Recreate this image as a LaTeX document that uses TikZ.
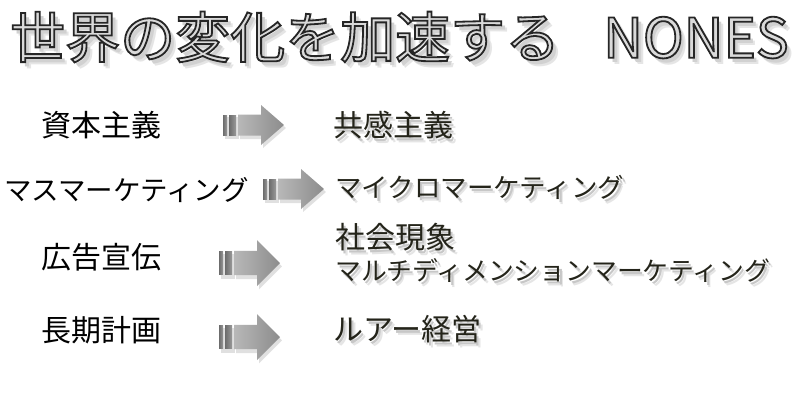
\documentclass[tikz,border=0pt]{standalone}
\usepackage{fontspec}
\setmainfont{Noto Sans CJK JP}
\definecolor{wordart}{HTML}{24241A}
\definecolor{silver}{HTML}{DADADA}
\definecolor{barL}{HTML}{6C6C6C}
\definecolor{barR}{HTML}{9A9A9A}
\definecolor{bodyL}{HTML}{B8B8B8}
\definecolor{bodyR}{HTML}{8C8C8C}
\newcommand\fsz[1]{\fontsize{#1}{#1}\selectfont}
\newcommand\outlined[1]{\special{pdf:literal direct 2 Tr 1.8 w 0.15 G}#1\special{pdf:literal direct 0 Tr 0 G}}
\newcommand\dropcopy[4]{\makebox[0pt][l]{\hspace{#1}\raisebox{#2}[0pt][0pt]{\color{#3}#4}}}
\newcommand\shadowed[1]{\dropcopy{4pt}{-5pt}{black!10}{#1}\dropcopy{2.5pt}{-3pt}{black!22}{#1}#1}
\newcommand\titletext{世界の変化を加速する\hspace{43pt}NONES}
\begin{document}
\begin{tikzpicture}[x=1pt,y=-1pt,
  txt/.style={inner sep=0pt,anchor=west},
  lefttxt/.style={txt,text=black},
  righttxt/.style={txt,text=wordart},
  nonesarrow/.pic={
    \fill[black,opacity=0.12] (2,-8) rectangle (16,14);
    \fill[black,opacity=0.12] (17,-8) -- (40,-8) -- (40,-17) -- (63,3) -- (40,23) -- (40,14) -- (17,14) -- cycle;
    \shade[left color=barL,right color=barL!70!white] (0,-10) rectangle (4,10);
    \shade[left color=barL,right color=barR] (6,-10) rectangle (13,10);
    \shade[left color=bodyL,right color=bodyR] (15,-10.5) -- (38,-10.5) -- (38,-20) -- (61,0) -- (38,20) -- (38,10.5) -- (15,10.5) -- cycle;
  }]
\useasboundingbox[fill=white] (0,0) rectangle (800,402);

% title
\node[txt,font=\fsz{55},text=silver] (title) at (10,37)
  {\dropcopy{6pt}{-7pt}{black!10}{\titletext}\dropcopy{4pt}{-5pt}{black!18}{\titletext}\outlined{\titletext}};

% left column
\node[lefttxt,font=\fsz{30}] (l1) at (41,125) {資本主義};
\node[lefttxt,font=\fsz{27.5}] (l2) at (4,190) {マスマーケティング};
\node[lefttxt,font=\fsz{30}] (l3) at (41,257) {広告宣伝};
\node[lefttxt,font=\fsz{30}] (l4) at (41,330) {長期計画};

% arrows
\pic at (223,125) {nonesarrow};
\pic at (263,189) {nonesarrow};
\pic[yscale=1.15] at (219,263) {nonesarrow};
\pic[yscale=1.15] at (219,337) {nonesarrow};

% right column
\node[righttxt,font=\fsz{30}] (r1) at (333,125) {\shadowed{共感主義}};
\node[righttxt,font=\fsz{26.5}] (r2) at (335,187) {\shadowed{マイクロマーケティング}};
\node[righttxt,font=\fsz{30}] (r3a) at (335,237) {\shadowed{社会現象}};
\node[righttxt,font=\fsz{25.8}] (r3b) at (335,271) {\shadowed{マルチディメンションマーケティング}};
\node[righttxt,font=\fsz{30}] (r4) at (333,329) {\shadowed{ルアー経営}};
\end{tikzpicture}
\end{document}
